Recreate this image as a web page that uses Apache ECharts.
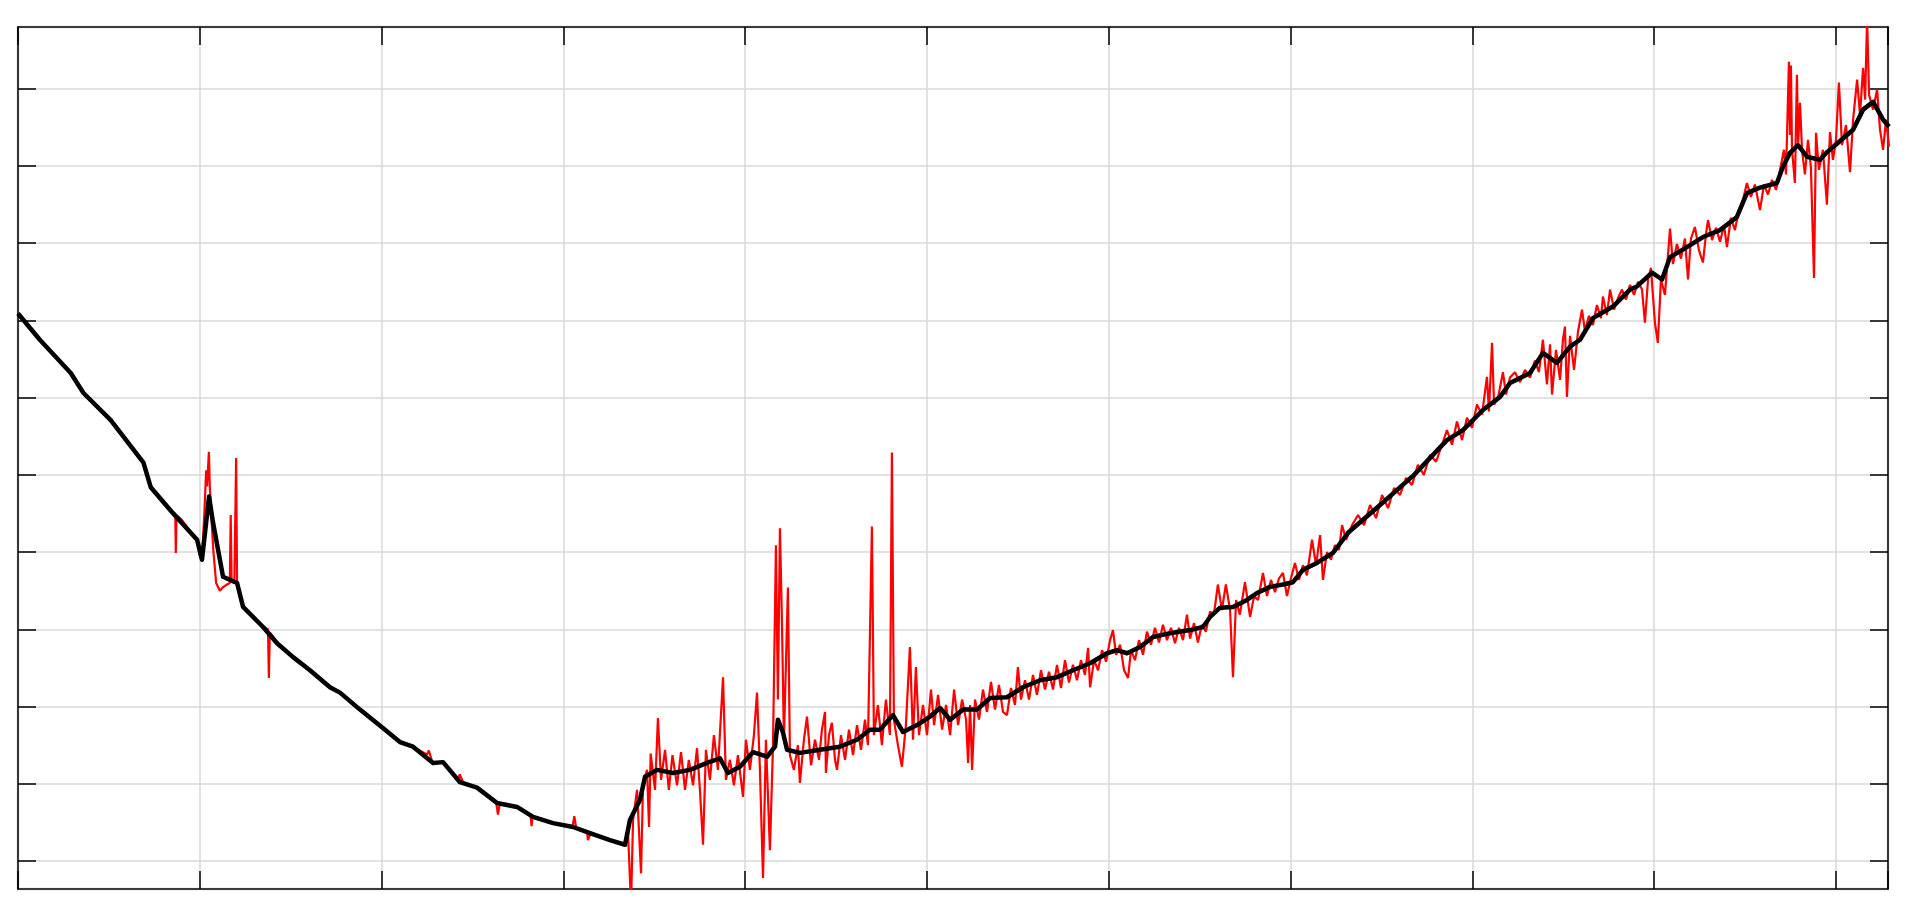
<!DOCTYPE html>
<html>
<head>
<meta charset="utf-8">
<script src="https://cdn.jsdelivr.net/npm/echarts@6.0.0/dist/echarts.min.js"></script>
<style>
    html, body { margin: 0; padding: 0; background: #fff; }
    #chart { width: 1912px; height: 920px; }
</style>
</head>
<body>
<div id="chart"></div>
<script>
    // tick positions (grid units)
    const xTicks = [0, 1, 2, 3, 4, 5, 6, 7, 8, 9, 10];
    const yTicks = [0, 1, 2, 3, 4, 5, 6, 7, 8, 9, 10];
    const xRange = [0, 10.286];
    const yRange = [-0.363, 10.80];

    // smoothed trend (black)
    const trendLine = [
        [0, 7.09], [0.12, 6.75], [0.29, 6.32], [0.36, 6.06], [0.51, 5.71], [0.69, 5.16], [0.73, 4.84],
        [0.85, 4.51], [0.985, 4.16], [1.012, 3.90], [1.051, 4.72], [1.073, 4.38], [1.128, 3.68],
        [1.205, 3.60], [1.238, 3.29], [1.348, 3.03], [1.425, 2.82], [1.513, 2.64], [1.606, 2.47],
        [1.716, 2.25], [1.771, 2.18], [1.881, 1.96], [1.997, 1.74], [2.101, 1.54], [2.173, 1.48],
        [2.283, 1.27], [2.338, 1.28], [2.431, 1.02], [2.525, 0.95], [2.635, 0.75], [2.745, 0.70],
        [2.833, 0.57], [2.943, 0.49], [3.053, 0.44], [3.146, 0.36], [3.256, 0.27], [3.339, 0.21],
        [3.366, 0.53], [3.421, 0.79], [3.449, 1.09], [3.515, 1.18], [3.603, 1.14], [3.696, 1.18],
        [3.790, 1.27], [3.861, 1.33], [3.905, 1.14], [3.971, 1.22], [4.043, 1.41], [4.120, 1.35],
        [4.164, 1.48], [4.180, 1.83], [4.208, 1.66], [4.230, 1.44], [4.301, 1.40], [4.411, 1.44],
        [4.521, 1.48], [4.615, 1.57], [4.686, 1.70], [4.741, 1.70], [4.813, 1.89], [4.868, 1.67],
        [4.945, 1.76], [5.017, 1.87], [5.072, 1.98], [5.127, 1.83], [5.198, 1.96], [5.275, 1.96],
        [5.347, 2.11], [5.440, 2.12], [5.528, 2.25], [5.622, 2.34], [5.715, 2.38], [5.803, 2.47],
        [5.897, 2.56], [5.990, 2.69], [6.045, 2.73], [6.100, 2.69], [6.172, 2.77], [6.243, 2.90],
        [6.337, 2.95], [6.447, 2.99], [6.518, 3.03], [6.557, 3.16], [6.612, 3.28], [6.683, 3.29],
        [6.760, 3.38], [6.815, 3.47], [6.887, 3.55], [6.958, 3.58], [7.013, 3.61], [7.068, 3.77],
        [7.145, 3.86], [7.233, 3.99], [7.316, 4.25], [7.492, 4.61], [7.679, 5.00], [7.860, 5.45],
        [7.948, 5.58], [8.058, 5.84], [8.152, 6.01], [8.207, 6.19], [8.317, 6.32], [8.388, 6.58],
        [8.465, 6.45], [8.537, 6.66], [8.592, 6.75], [8.663, 7.03], [8.773, 7.18], [8.867, 7.40],
        [8.905, 7.44], [8.988, 7.62], [9.043, 7.53], [9.087, 7.82], [9.180, 7.95], [9.268, 8.08],
        [9.362, 8.17], [9.455, 8.34], [9.510, 8.65], [9.582, 8.72], [9.675, 8.78], [9.708, 8.99],
        [9.747, 9.17], [9.791, 9.27], [9.840, 9.12], [9.912, 9.08], [9.951, 9.18], [10.011, 9.30],
        [10.094, 9.47], [10.149, 9.73], [10.204, 9.83], [10.259, 9.60], [10.292, 9.51]
    ];

    // raw signal (red), left falling part
    const rawFalling = [
        [0, 7.09], [0.12, 6.76], [0.29, 6.31], [0.36, 6.07], [0.51, 5.70], [0.69, 5.15], [0.73, 4.86],
        [0.80, 4.63], [0.85, 4.52], [0.865, 4.50], [0.868, 3.99], [0.872, 4.48], [0.90, 4.42],
        [0.95, 4.26], [0.985, 4.16], [1.00, 3.95], [1.012, 3.90], [1.025, 4.50], [1.035, 5.06],
        [1.04, 4.85], [1.05, 5.30], [1.055, 4.85], [1.065, 4.40], [1.075, 4.00], [1.09, 3.60],
        [1.11, 3.50], [1.13, 3.55], [1.15, 3.58], [1.165, 3.60], [1.17, 4.48], [1.175, 3.62],
        [1.19, 3.60], [1.20, 5.22], [1.205, 3.58], [1.22, 3.48], [1.24, 3.29], [1.30, 3.13],
        [1.35, 3.03], [1.375, 3.00], [1.38, 2.37], [1.385, 2.96], [1.43, 2.82], [1.51, 2.64],
        [1.61, 2.47], [1.72, 2.25], [1.77, 2.18], [1.88, 1.96], [2.00, 1.74], [2.10, 1.54],
        [2.17, 1.48], [2.25, 1.38], [2.26, 1.43], [2.28, 1.27], [2.34, 1.28], [2.42, 1.06],
        [2.43, 1.12], [2.45, 1.01], [2.53, 0.95], [2.63, 0.76], [2.64, 0.60], [2.65, 0.74],
        [2.75, 0.70], [2.82, 0.58], [2.825, 0.45], [2.83, 0.57], [2.94, 0.49], [3.05, 0.44],
        [3.06, 0.58], [3.07, 0.43], [3.13, 0.37], [3.135, 0.27], [3.15, 0.36], [3.26, 0.27],
        [3.34, 0.21]
    ];

    // raw signal (red), noisy middle part
    const rawMiddle = [
        [3.355, 0.40], [3.372, -0.57], [3.383, 0.53], [3.405, 0.92], [3.427, -0.16], [3.438, 0.98],
        [3.46, 1.18], [3.471, 0.44], [3.48, 1.39], [3.504, 0.92], [3.52, 1.85], [3.537, 1.05],
        [3.559, 1.44], [3.58, 0.92], [3.60, 1.37], [3.625, 0.98], [3.647, 1.41], [3.669, 0.92],
        [3.69, 1.31], [3.713, 0.98], [3.735, 1.46], [3.751, 0.92], [3.768, 0.21], [3.784, 1.44],
        [3.806, 1.05], [3.828, 1.63], [3.85, 1.18], [3.878, 2.38], [3.894, 1.05], [3.916, 1.31],
        [3.938, 0.98], [3.96, 1.37], [3.988, 0.83], [4.004, 1.57], [4.026, 1.18], [4.048, 1.63],
        [4.065, 2.18], [4.081, 1.18], [4.098, -0.22], [4.114, 1.57], [4.136, 0.14], [4.153, 1.50],
        [4.169, 4.09], [4.18, 2.09], [4.191, 4.31], [4.202, 3.12], [4.213, 1.57], [4.235, 3.54],
        [4.246, 1.37], [4.268, 1.18], [4.29, 1.50], [4.301, 1.01], [4.323, 1.57], [4.34, 1.87],
        [4.362, 1.24], [4.384, 1.57], [4.406, 1.31], [4.422, 1.70], [4.439, 1.93], [4.444, 1.14],
        [4.461, 1.63], [4.477, 1.79], [4.494, 1.31], [4.505, 1.18], [4.527, 1.63], [4.549, 1.31],
        [4.571, 1.70], [4.593, 1.37], [4.615, 1.76], [4.637, 1.44], [4.659, 1.83], [4.675, 1.50],
        [4.697, 4.33], [4.708, 1.63], [4.73, 2.02], [4.752, 1.50], [4.774, 2.09], [4.796, 1.63],
        [4.807, 5.29], [4.818, 1.83], [4.84, 1.50], [4.862, 1.22], [4.884, 1.76], [4.906, 2.77],
        [4.923, 1.57], [4.939, 2.51], [4.956, 1.63], [4.978, 2.02], [5.0, 1.63], [5.022, 2.22],
        [5.039, 1.76], [5.061, 2.15], [5.083, 1.70], [5.105, 2.02], [5.127, 1.63], [5.149, 2.22],
        [5.171, 1.76], [5.193, 2.09], [5.215, 1.83], [5.226, 1.27], [5.237, 2.02], [5.248, 1.18],
        [5.264, 2.09], [5.286, 1.83], [5.308, 2.22], [5.33, 1.93], [5.352, 2.32], [5.374, 1.96],
        [5.396, 2.28], [5.418, 1.93], [5.44, 1.89], [5.462, 2.24], [5.484, 2.02], [5.5, 2.51],
        [5.517, 2.09], [5.539, 2.34], [5.561, 2.09], [5.583, 2.41], [5.605, 2.15], [5.627, 2.47],
        [5.649, 2.22], [5.671, 2.45], [5.693, 2.22], [5.715, 2.54], [5.737, 2.24], [5.759, 2.60],
        [5.781, 2.31], [5.803, 2.54], [5.825, 2.34], [5.847, 2.60], [5.869, 2.41], [5.886, 2.76],
        [5.897, 2.25], [5.919, 2.60], [5.941, 2.47], [5.963, 2.73], [5.985, 2.58], [6.007, 2.86],
        [6.023, 2.99], [6.04, 2.67], [6.062, 2.80], [6.084, 2.47], [6.106, 2.37], [6.122, 2.73],
        [6.144, 2.60], [6.166, 2.86], [6.188, 2.67], [6.21, 2.97], [6.232, 2.80], [6.254, 3.02],
        [6.276, 2.83], [6.298, 3.06], [6.32, 2.86], [6.342, 3.02], [6.364, 2.82], [6.386, 3.02],
        [6.408, 2.86], [6.43, 3.19], [6.447, 2.88], [6.469, 3.08], [6.49, 2.83], [6.512, 3.06],
        [6.534, 2.97], [6.557, 3.23], [6.578, 3.19], [6.6, 3.58], [6.622, 3.25], [6.644, 3.58],
        [6.667, 3.25], [6.683, 2.38], [6.7, 3.38], [6.721, 3.19], [6.749, 3.61], [6.777, 3.16],
        [6.799, 3.43], [6.821, 3.38], [6.848, 3.73], [6.87, 3.43], [6.892, 3.64], [6.914, 3.48],
        [6.936, 3.66], [6.958, 3.73], [6.98, 3.43], [7.002, 3.66], [7.024, 3.86], [7.046, 3.64],
        [7.068, 3.83], [7.09, 3.70], [7.118, 4.16], [7.14, 3.83], [7.162, 4.22], [7.178, 3.64],
        [7.2, 4.00], [7.222, 3.90], [7.244, 4.09], [7.266, 4.03], [7.283, 4.35], [7.305, 4.16]
    ];

    // raw signal (red), rising right part
    const rawRising = [
        [7.338, 4.35], [7.371, 4.48], [7.404, 4.35], [7.437, 4.61], [7.470, 4.44], [7.503, 4.74],
        [7.536, 4.57], [7.569, 4.83], [7.602, 4.74], [7.635, 4.96], [7.668, 4.87], [7.70, 5.13],
        [7.733, 5.00], [7.767, 5.26], [7.80, 5.17], [7.833, 5.39], [7.86, 5.58], [7.888, 5.39],
        [7.915, 5.69], [7.943, 5.45], [7.97, 5.74], [7.998, 5.61], [8.025, 5.91], [8.053, 5.78],
        [8.08, 6.27], [8.091, 5.82], [8.108, 6.71], [8.119, 5.91], [8.141, 6.00], [8.168, 6.33],
        [8.185, 6.04], [8.207, 6.26], [8.234, 6.33], [8.262, 6.20], [8.289, 6.36], [8.317, 6.26],
        [8.344, 6.48], [8.366, 6.33], [8.388, 6.75], [8.41, 6.17], [8.427, 6.69], [8.438, 6.04],
        [8.46, 6.62], [8.482, 6.23], [8.498, 6.75], [8.509, 6.92], [8.52, 6.01], [8.537, 6.80],
        [8.559, 6.36], [8.581, 6.86], [8.603, 7.14], [8.619, 6.86], [8.641, 7.06], [8.663, 6.94],
        [8.685, 7.20], [8.707, 7.03], [8.718, 7.31], [8.74, 7.07], [8.757, 7.40], [8.779, 7.14],
        [8.801, 7.29], [8.823, 7.40], [8.845, 7.27], [8.867, 7.46], [8.889, 7.33], [8.911, 7.50],
        [8.933, 7.40], [8.949, 6.97], [8.966, 7.53], [8.982, 7.68], [9.004, 6.97], [9.02, 6.71],
        [9.037, 7.53], [9.059, 7.33], [9.087, 8.19], [9.103, 7.73], [9.125, 7.99], [9.147, 7.80],
        [9.169, 8.06], [9.186, 7.53], [9.202, 8.06], [9.224, 8.21], [9.246, 7.91], [9.268, 7.75],
        [9.285, 8.12], [9.296, 8.30], [9.318, 8.04], [9.34, 8.20], [9.362, 8.02], [9.384, 8.23],
        [9.40, 7.95], [9.422, 8.33], [9.444, 8.17], [9.466, 8.43], [9.488, 8.56], [9.51, 8.78],
        [9.532, 8.60], [9.554, 8.76], [9.582, 8.43], [9.604, 8.76], [9.626, 8.63], [9.648, 8.82],
        [9.67, 8.69], [9.692, 8.95], [9.714, 9.21], [9.725, 8.89], [9.741, 10.35], [9.747, 9.40],
        [9.752, 10.30], [9.758, 9.21], [9.774, 8.78], [9.785, 10.18], [9.792, 9.30], [9.802, 9.82],
        [9.813, 9.21], [9.829, 8.89], [9.846, 9.34], [9.862, 8.98], [9.879, 7.55], [9.89, 9.43],
        [9.906, 8.95], [9.928, 9.21], [9.95, 8.50], [9.967, 9.44], [9.983, 9.08], [10.0, 9.34],
        [10.016, 10.08], [10.033, 9.27], [10.055, 9.53], [10.077, 8.92], [10.094, 9.60], [10.116, 10.12],
        [10.132, 9.66], [10.149, 10.27], [10.16, 9.86], [10.171, 10.89], [10.182, 9.92], [10.204, 9.73],
        [10.226, 9.99], [10.242, 9.47], [10.259, 9.21], [10.275, 9.60], [10.292, 9.25]
    ];

    const rawLine = rawFalling.concat(rawMiddle, rawRising);

    const chart = echarts.init(document.getElementById('chart'));

    const tickStyle = { color: '#000', width: 1.5 };

    let option = {
        animation: false,
        backgroundColor: '#fff',
        grid: {
            left: 18, top: 27, right: 24, bottom: 31,
            show: true,
            borderColor: '#e8e8e8',
            borderWidth: 3
        },
        xAxis: [
            {
                type: 'value',
                min: xRange[0], max: xRange[1], interval: 1,
                axisLine: { onZero: false, lineStyle: { color: '#000', width: 1.5 } },
                axisTick: { inside: true, length: 18, lineStyle: tickStyle },
                axisLabel: { show: false },
                splitLine: { show: true, lineStyle: { color: '#d9d9d9', width: 1.5 } }
            },
            {
                type: 'value',
                position: 'top',
                min: xRange[0], max: xRange[1], interval: 1,
                axisLine: { onZero: false, lineStyle: { color: '#000', width: 1.5 } },
                axisTick: { inside: true, length: 18, lineStyle: tickStyle },
                axisLabel: { show: false },
                splitLine: { show: false }
            }
        ],
        yAxis: [
            {
                type: 'value',
                min: yRange[0], max: yRange[1],
                axisLine: { show: true, onZero: false, lineStyle: { color: '#000', width: 1.5 } },
                axisTick: { show: true, inside: true, length: 18, customValues: yTicks, lineStyle: tickStyle },
                axisLabel: { show: false, customValues: yTicks },
                splitLine: { show: true, lineStyle: { color: '#d9d9d9', width: 1.5 } }
            },
            {
                type: 'value',
                position: 'right',
                min: yRange[0], max: yRange[1],
                axisLine: { show: true, onZero: false, lineStyle: { color: '#000', width: 1.5 } },
                axisTick: { show: true, inside: true, length: 18, customValues: yTicks, lineStyle: tickStyle },
                axisLabel: { show: false, customValues: yTicks },
                splitLine: { show: false }
            }
        ],
        series: [
            {
                type: 'line',
                data: rawLine,
                showSymbol: false,
                clip: true,
                lineStyle: { color: '#ff0000', width: 2.2, join: 'bevel' },
                z: 2
            },
            {
                type: 'line',
                data: trendLine,
                showSymbol: false,
                clip: true,
                lineStyle: { color: '#000000', width: 4.5, join: 'round' },
                z: 3
            }
        ]
    };

    chart.setOption(option);
</script>
</body>
</html>
